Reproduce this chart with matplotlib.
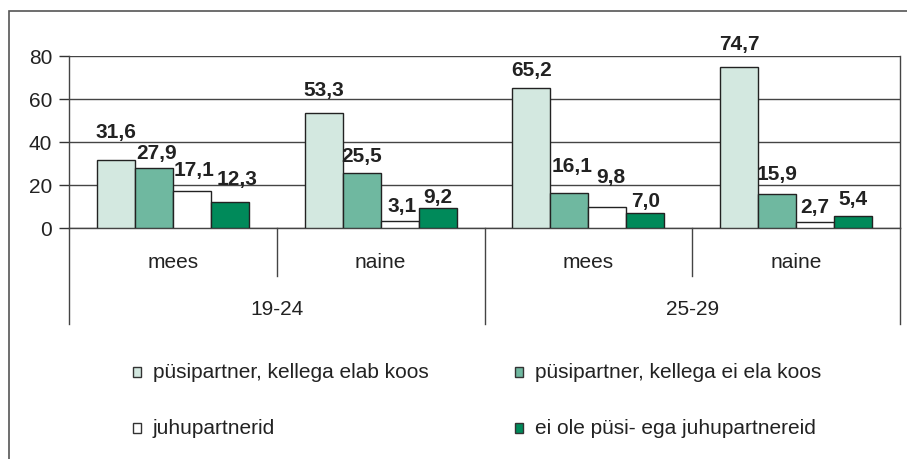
import matplotlib
matplotlib.use('Agg')
import matplotlib.pyplot as plt
from matplotlib.patches import Rectangle
from matplotlib.lines import Line2D

plt.rcParams['font.family'] = ['Liberation Sans', 'DejaVu Sans']

# data
ageGroups = ['19-24', '25-29']
sexes = ['mees', 'naine', 'mees', 'naine']
series = ['püsipartner, kellega elab koos',
          'püsipartner, kellega ei ela koos',
          'juhupartnerid',
          'ei ole püsi- ega juhupartnereid']
elabKoos = [31.6, 53.3, 65.2, 74.7]
eiElaKoos = [27.9, 25.5, 16.1, 15.9]
juhupartnerid = [17.1, 3.1, 9.8, 2.7]
eiOle = [12.3, 9.2, 7.0, 5.4]
yTicks = [0, 20, 40, 60, 80]

colors = ['#d3e8e0', '#6fb8a0', '#ffffff', '#008a5a']
# label lift above bar top, in pixels (Excel placed them unevenly)
labelLift = [[23, 18, 13, 18],
             [10, 12, 22, 15],
             [16, 10, 25, 10],
             [18, 6, 7, 12]]
labelShift = [[0, 0, 0, 0],
              [3, 0, 3, 0],
              [2, 2, 3, 0],
              [7, 0, 0, 0]]

W, H = 907, 460
fig = plt.figure(figsize=(W / 100, H / 100), dpi=100)
ax = fig.add_axes([69 / W, 1 - 229 / H, (900 - 69) / W, (229 - 57) / H])

# outer frame
fig.add_artist(Rectangle((9 / W, -0.05), 1.2, 1 - 12 / H + 0.05, transform=fig.transFigure,
                         fill=False, edgecolor='#555555', lw=1.2, clip_on=False))

allSeries = [elabKoos, eiElaKoos, juhupartnerid, eiOle]
barW = 0.183
for i, vals in enumerate(allSeries):
    xs = [g + 0.5 + (i - 1.5) * barW for g in range(len(vals))]
    bars = ax.bar(xs, vals, width=barW, color=colors[i], edgecolor='#222222', lw=1.0, zorder=3)
    for b, v, lift, sh in zip(bars, vals, labelLift[i], labelShift[i]):
        ax.annotate(f'{v:.1f}'.replace('.', ','), (b.get_x() + b.get_width() / 2, v),
                    xytext=(sh * 0.72, lift * 0.72), textcoords='offset points',
                    ha='center', va='baseline', fontsize=15, fontweight='bold', color='#222222')

ax.set_xlim(0, 4)
ax.set_ylim(0, 80)
ax.set_yticks(yTicks)
ax.set_xticks([])
ax.tick_params(axis='y', labelsize=15, length=7, width=1, color='#333333', pad=5, labelcolor='#222222')
ax.yaxis.grid(True, color='#444444', lw=1.0)
ax.set_axisbelow(True)
ax.spines['top'].set_visible(False)
for s in ['left', 'right', 'bottom']:
    ax.spines[s].set_color('#444444')
    ax.spines[s].set_linewidth(1.0)

# category axis: sex labels and age group labels with separators
trans = ax.get_xaxis_transform()
px = 1 / (229 - 57)  # one pixel in axes fraction (vertical)
for g in range(5):
    depth = 96 if g % 2 == 0 else 48
    ax.add_line(Line2D([g, g], [0, -depth * px], transform=trans, color='#444444', lw=1.0, clip_on=False))
for g, s in enumerate(sexes):
    ax.text(g + 0.5, -33 * px, s, transform=trans, ha='center', va='center', fontsize=15, color='#222222')
for k, a in enumerate(ageGroups):
    ax.text(2 * k + 1, -81 * px, a, transform=trans, ha='center', va='center', fontsize=15, color='#222222')

# legend
legPos = [(133, 373), (515, 373), (133, 429), (515, 429)]
for (lx, ly), lab, c in zip(legPos, series, colors):
    fig.add_artist(Rectangle((lx / W, 1 - (ly + 5) / H), 8 / W, 10 / H, transform=fig.transFigure,
                             facecolor=c, edgecolor='#333333', lw=1.0))
    fig.text((lx + 20) / W, 1 - ly / H, lab, ha='left', va='center', fontsize=15, color='#222222')

fig.savefig('out.png', dpi=100)
